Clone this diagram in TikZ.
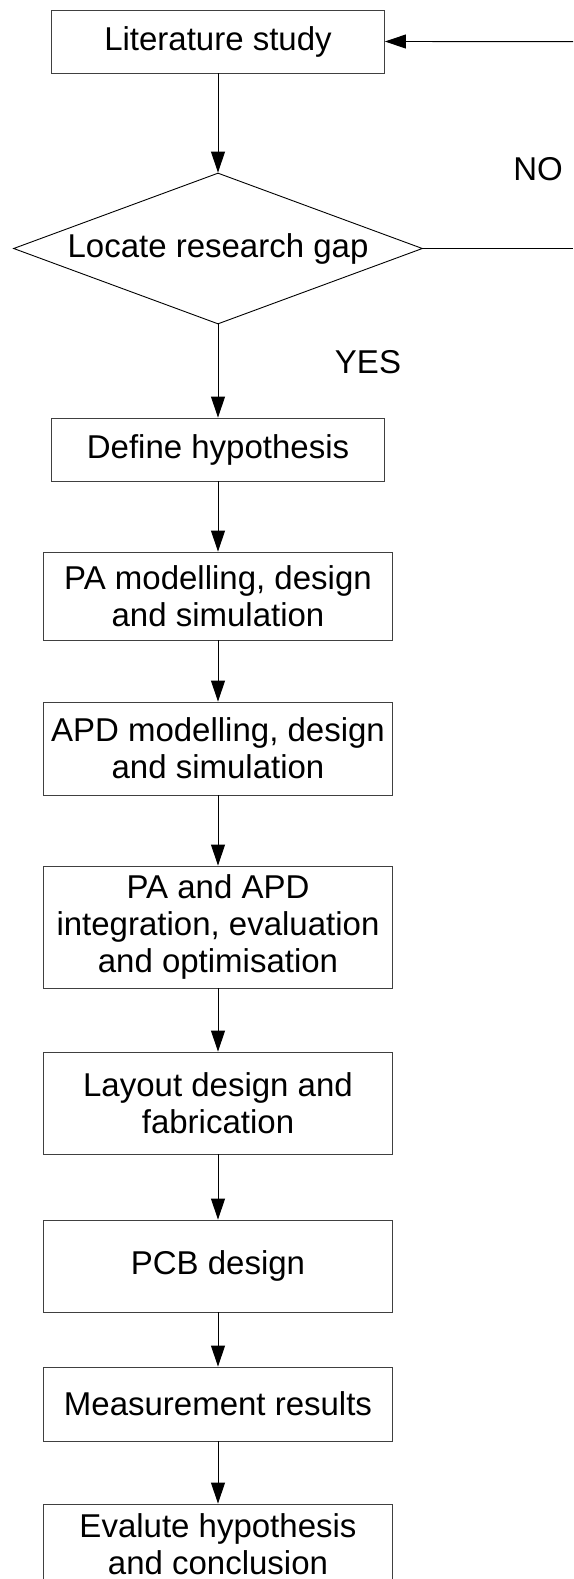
\documentclass[tikz,border=0pt]{standalone}
\usepackage{fontspec}
\setmainfont{Liberation Sans}
\usetikzlibrary{arrows.meta}
\usetikzlibrary{shapes.geometric}

\begin{document}
\begin{tikzpicture}[x=1pt,y=-1pt,
    font=\fontsize{33}{37}\selectfont,
    stepbox/.style={shape=rectangle,draw=black!75,line width=0.9pt,align=center,inner sep=0pt,minimum width=348.5pt},
    every edge/.style={draw=black,line width=0.9pt},
    >={Triangle[length=21pt,width=14pt]}]
    \useasboundingbox (0,0) rectangle (573,1579);
    \clip (0,0) rectangle (573,1579);
    \node[stepbox,minimum width=333pt,minimum height=63pt] (lit) at (218,41.5) {Literature study};
    \node[shape=diamond,draw=black,line width=0.9pt,inner sep=0pt,shape aspect=2.71,minimum width=409pt,minimum height=151pt] (gap) at (218,248.5) {Locate research gap};
    \node[stepbox,minimum width=333pt,minimum height=63pt] (hyp) at (218,449.5) {Define hypothesis};
    \node[stepbox,minimum height=88pt] (pamod) at (218,596) {PA modelling, design\\and simulation};
    \node[stepbox,minimum height=93pt] (apdmod) at (218,748.5) {APD modelling, design\\and simulation};
    \node[stepbox,minimum height=122pt] (integ) at (218,927) {PA and APD\\integration, evaluation\\and optimisation};
    \node[stepbox,minimum height=102pt] (layout) at (218,1103) {Layout design and\\fabrication};
    \node[stepbox,minimum height=92pt] (pcb) at (218,1266) {PCB design};
    \node[stepbox,minimum height=74pt] (meas) at (218,1404) {Measurement results};
    \node[stepbox,minimum height=80pt] (eval) at (218,1544) {Evalute hypothesis\\and conclusion};
    \node (no) at (538,169) {NO};
    \node (yes) at (368,362) {YES};
    \coordinate (gapout) at (573,248.5);
    \coordinate (litin) at (573,41.7);
    \path [->] (lit) edge (gap);
    \path [->] (gap) edge (hyp);
    \path [->] (hyp) edge (pamod);
    \path [->] (pamod) edge (apdmod);
    \path [->] (apdmod) edge (integ);
    \path [->] (integ) edge (layout);
    \path [->] (layout) edge (pcb);
    \path [->] (pcb) edge (meas);
    \path [->] (meas) edge (eval);
    \path (gap.east) edge (gapout);
    \path [->] (litin) edge (lit.east);
\end{tikzpicture}
\end{document}
